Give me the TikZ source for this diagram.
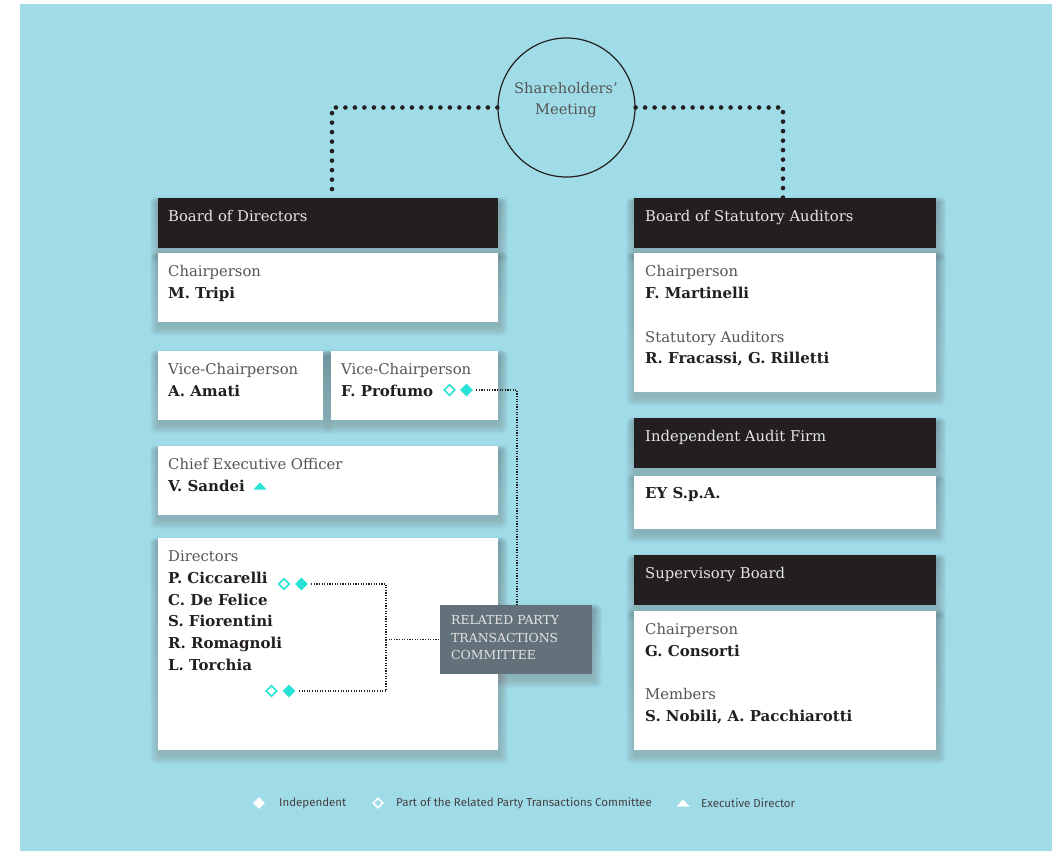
\documentclass[tikz,border=0pt]{standalone}
\usepackage{fontspec}
\setmainfont{DejaVu Serif}
\newfontfamily\legendfont{Fira Sans}
\usetikzlibrary{shapes.geometric}
\definecolor{bg}{RGB}{160,220,232}
\definecolor{ink}{RGB}{35,31,32}
\definecolor{lbl}{RGB}{85,85,85}
\definecolor{turq}{RGB}{40,226,214}
\definecolor{commc}{RGB}{99,113,122}
\definecolor{hdtext}{RGB}{228,228,228}
\definecolor{shade}{RGB}{40,90,105}
\pgfdeclarelayer{bglayer}
\pgfdeclarelayer{shadowlayer}
\pgfsetlayers{bglayer,shadowlayer,main}
\begin{document}
\begin{tikzpicture}[x=1pt,y=-1pt,
  orgbox/.style={anchor=north west, inner sep=0, outer sep=0, draw=none},
  whitebox/.style={orgbox, fill=white},
  headbox/.style={orgbox, fill=ink},
  labtext/.style={anchor=base west, inner sep=0, font=\fontsize{14.8}{17}\selectfont, text=lbl},
  nametext/.style={anchor=base west, inner sep=0, font=\fontsize{15}{17}\selectfont\bfseries, text=ink},
  headtext/.style={labtext, text=hdtext},
  committeetext/.style={anchor=base west, inner sep=0, font=\fontsize{12.4}{14}\selectfont, text=hdtext},
  legendtext/.style={anchor=west, inner sep=0, font=\legendfont\fontsize{11.5}{13}\selectfont, text=ink!85},
  thindots/.style={line width=1.1pt, dash pattern=on 1.1pt off 1.5pt, draw=ink},
  bigdots/.style={line width=4.6pt, line cap=round, dash pattern=on 0pt off 9.5pt, draw=ink},
  fdia/.style={diamond, aspect=1, minimum width=13pt, minimum height=13pt, inner sep=0, fill=turq},
  hdia/.style={diamond, aspect=1, minimum width=11pt, minimum height=11pt, inner sep=0, fill=white, draw=turq, line width=1.6pt},
  wfdia/.style={diamond, aspect=1, minimum width=12pt, minimum height=12pt, inner sep=0, fill=white},
  whdia/.style={diamond, aspect=1, minimum width=10pt, minimum height=10pt, inner sep=0, draw=white, line width=1.6pt}
]
\useasboundingbox (0,0) rectangle (1052,851);
\begin{pgfonlayer}{bglayer}
\fill[white] (0,0) rectangle (1052,851);
\fill[bg] (20,4) rectangle (1052,851);
\end{pgfonlayer}

% Shareholders' Meeting
\node[ellipse, draw=ink, line width=1.2pt, minimum width=137pt, minimum height=139pt, inner sep=0] (sm) at (566.5,107.5) {};
\node[anchor=base, inner sep=0, font=\fontsize{14.6}{17}\selectfont, text=lbl] (smt1) at (566,93) {Shareholders’};
\node[anchor=base, inner sep=0, font=\fontsize{14.6}{17}\selectfont, text=lbl] (smt2) at (566,114) {Meeting};

% Left column
\node[headbox, minimum width=340pt, minimum height=50pt] (bodh) at (158,198) {};
\node[headtext] (bodt) at (168,221) {Board of Directors};
\node[whitebox, minimum width=340pt, minimum height=69pt] (chb) at (158,253) {};
\node[labtext] (cht) at (168,276) {Chairperson};
\node[nametext] (chn) at (168,298) {M. Tripi};

\node[whitebox, minimum width=165pt, minimum height=69pt] (vc1) at (158,351) {};
\node[labtext] (vc1t) at (168,374) {Vice-Chairperson};
\node[nametext] (vc1n) at (168,396) {A. Amati};
\node[whitebox, minimum width=167pt, minimum height=69pt] (vc2) at (331,351) {};
\node[labtext] (vc2t) at (341,374) {Vice-Chairperson};
\node[nametext] (vc2n) at (341,396) {F. Profumo};
\node[hdia] (pfh) at (449.5,390) {};
\node[fdia] (pff) at (466.5,390) {};

\node[whitebox, minimum width=340pt, minimum height=69pt] (ceo) at (158,446) {};
\node[labtext] (ceot) at (168,469) {Chief Executive Officer};
\node[nametext] (ceon) at (168,491) {V. Sandei};
\coordinate (tri) at (260,486);
\fill[turq] ([xshift=-6.5pt,yshift=-3.5pt]tri) -- ([xshift=6.5pt,yshift=-3.5pt]tri) -- ([yshift=3.5pt]tri) -- cycle;

\node[whitebox, minimum width=340pt, minimum height=212pt] (dir) at (158,538) {};
\node[labtext] (dirt) at (168,561) {Directors};
\node[nametext] (d1) at (168,583) {P. Ciccarelli};
\node[nametext] (d2) at (168,605) {C. De Felice};
\node[nametext] (d3) at (168,626) {S. Fiorentini};
\node[nametext] (d4) at (168,648) {R. Romagnoli};
\node[nametext] (d5) at (168,670) {L. Torchia};
\node[hdia] (dah) at (284,584) {};
\node[fdia] (daf) at (301.5,584) {};
\node[hdia] (dbh) at (271.5,691) {};
\node[fdia] (dbf) at (289,691) {};

% Committee
\node[orgbox, fill=commc, minimum width=152pt, minimum height=69pt] (comm) at (440,605) {};
\node[committeetext] (cm1) at (451,624) {RELATED PARTY};
\node[committeetext] (cm2) at (451,642) {TRANSACTIONS};
\node[committeetext] (cm3) at (451,659) {COMMITTEE};

\coordinate (jn) at (386,639.5);
\draw[thindots] ([xshift=3pt]pff.east) -| ([xshift=1pt]comm.north);
\draw[thindots] ([xshift=3pt]daf.east) -| (jn) |- ([xshift=3pt]dbf.east);
\draw[thindots] (jn) -- (comm.west);

% Right column
\node[headbox, minimum width=302pt, minimum height=50pt] (bsah) at (634,198) {};
\node[headtext] (bsat) at (645,221) {Board of Statutory Auditors};
\node[whitebox, minimum width=302pt, minimum height=139pt] (bsa) at (634,253) {};
\node[labtext] (bsa1) at (645,276) {Chairperson};
\node[nametext] (bsa2) at (645,298) {F. Martinelli};
\node[labtext] (bsa3) at (645,342) {Statutory Auditors};
\node[nametext] (bsa4) at (645,363) {R. Fracassi, G. Rilletti};

\node[headbox, minimum width=302pt, minimum height=50pt] (iafh) at (634,418) {};
\node[headtext] (iaft) at (645,441) {Independent Audit Firm};
\node[whitebox, minimum width=302pt, minimum height=53pt] (iaf) at (634,476) {};
\node[nametext] (iafn) at (645,498) {EY S.p.A.};

\node[headbox, minimum width=302pt, minimum height=50pt] (sbh) at (634,555) {};
\node[headtext] (sbt) at (645,578) {Supervisory Board};
\node[whitebox, minimum width=302pt, minimum height=139pt] (sb) at (634,611) {};
\node[labtext] (sb1) at (645,634) {Chairperson};
\node[nametext] (sb2) at (645,656) {G. Consorti};
\node[labtext] (sb3) at (645,699) {Members};
\node[nametext] (sb4) at (645,721) {S. Nobili, A. Pacchiarotti};

% soft shadows
\begin{pgfonlayer}{shadowlayer}
\foreach \b in {bodh,chb,vc1,vc2,ceo,dir,comm,bsah,bsa,iafh,iaf,sbh,sb}{
  \foreach \k in {1,...,10}{
    \fill[shade, opacity=0.018, rounded corners=\k*0.6pt]
      ([xshift=1pt-\k*0.9pt, yshift=-5pt+\k*0.6pt]\b.north west)
      rectangle ([xshift=1pt+\k*0.9pt, yshift=-5pt-\k*0.9pt]\b.south east);
  }
}
\end{pgfonlayer}

% Shareholders connectors
\draw[bigdots] (sm.west) -| ([xshift=4pt]bodh.north);
\draw[bigdots] (sm.east) -| ([xshift=-2pt]bsah.north);

% Legend
\node[wfdia] (lg1) at (259,803) {};
\node[legendtext] (lg1t) at (279,803) {Independent};
\node[whdia] (lg2) at (378,803) {};
\node[legendtext] (lg2t) at (396,803) {Part of the Related Party Transactions Committee};
\coordinate (lg3) at (683,803);
\fill[white] ([xshift=-6.5pt,yshift=-3.5pt]lg3) -- ([xshift=6.5pt,yshift=-3.5pt]lg3) -- ([yshift=3.5pt]lg3) -- cycle;
\node[legendtext] (lg3t) at (701,803) {Executive Director};
\end{tikzpicture}
\end{document}
